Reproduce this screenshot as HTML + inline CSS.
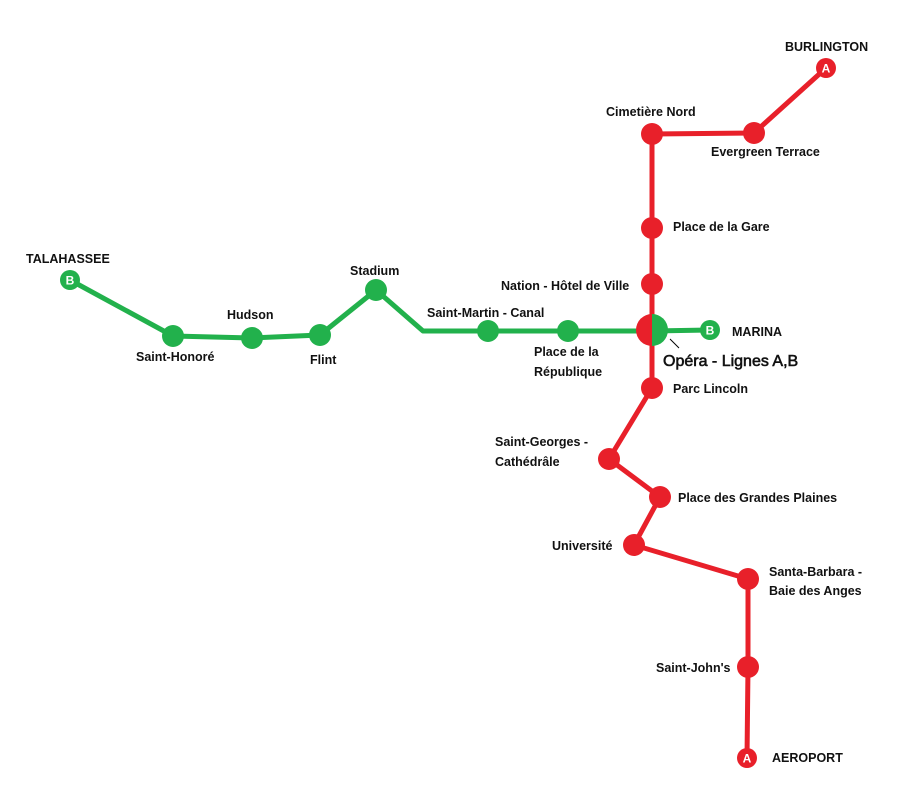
<!DOCTYPE html>
<html><head><meta charset="utf-8"><style>
html,body{margin:0;padding:0;background:#fff;}
svg text{font-family:"Liberation Sans",Arial,sans-serif;font-weight:bold;font-size:12.5px;fill:#111;}
svg text.w{fill:#fff;font-size:12px;}
</style></head><body>
<svg width="902" height="789" viewBox="0 0 902 789" xmlns="http://www.w3.org/2000/svg">
<rect width="902" height="789" fill="#fff"/>
<g fill="none" stroke-width="5" stroke-linejoin="round" stroke-linecap="round">
<polyline stroke="#e8202a" points="826,68 754,133 652,134 652,228 652,284 652,330 652,388 609,459 660,497 634,545 748,579 748,667 747,758"/>
<polyline stroke="#22b14c" points="70,280 173,336 252,338 320,335 376,290 423,331 488,331 568,331 652,331 710,330"/>
</g>
<g fill="#e8202a">
<circle cx="754" cy="133" r="11"/><circle cx="652" cy="134" r="11"/><circle cx="652" cy="228" r="11"/>
<circle cx="652" cy="284" r="11"/><circle cx="652" cy="388" r="11"/><circle cx="609" cy="459" r="11"/>
<circle cx="660" cy="497" r="11"/><circle cx="634" cy="545" r="11"/><circle cx="748" cy="579" r="11"/>
<circle cx="748" cy="667" r="11"/><circle cx="826" cy="68" r="10"/><circle cx="747" cy="758" r="10"/>
</g>
<g fill="#22b14c">
<circle cx="70" cy="280" r="10"/><circle cx="173" cy="336" r="11"/><circle cx="252" cy="338" r="11"/>
<circle cx="320" cy="335" r="11"/><circle cx="376" cy="290" r="11"/><circle cx="488" cy="331" r="11"/>
<circle cx="568" cy="331" r="11"/><circle cx="710" cy="330" r="10"/>
</g>
<path d="M652,314 A16,16 0 0 0 652,346 Z" fill="#e8202a"/>
<path d="M652,314 A16,16 0 0 1 652,346 Z" fill="#22b14c"/>
<line x1="670" y1="339" x2="679" y2="348" stroke="#000" stroke-width="1"/>
<text class="w" x="826" y="72.5" text-anchor="middle">A</text>
<text class="w" x="747" y="762.5" text-anchor="middle">A</text>
<text class="w" x="70" y="284.5" text-anchor="middle">B</text>
<text class="w" x="710" y="334.5" text-anchor="middle">B</text>
<text x="785" y="51">BURLINGTON</text>
<text x="606" y="116">Cimetière Nord</text>
<text x="711" y="156">Evergreen Terrace</text>
<text x="673" y="231">Place de la Gare</text>
<text x="501" y="290">Nation - Hôtel de Ville</text>
<text x="732" y="336">MARINA</text>
<text x="663" y="366" style="font-size:16px;font-weight:normal;stroke:#111;stroke-width:0.6">Opéra - Lignes A,B</text>
<text x="673" y="393">Parc Lincoln</text>
<text x="495" y="446">Saint-Georges -</text>
<text x="495" y="466">Cathédrâle</text>
<text x="678" y="502">Place des Grandes Plaines</text>
<text x="552" y="550">Université</text>
<text x="769" y="576">Santa-Barbara -</text>
<text x="769" y="595">Baie des Anges</text>
<text x="656" y="672">Saint-John's</text>
<text x="772" y="762">AEROPORT</text>
<text x="26" y="263">TALAHASSEE</text>
<text x="136" y="361">Saint-Honoré</text>
<text x="227" y="319">Hudson</text>
<text x="310" y="364">Flint</text>
<text x="350" y="275">Stadium</text>
<text x="427" y="317">Saint-Martin - Canal</text>
<text x="534" y="356">Place de la</text>
<text x="534" y="376">République</text>
</svg>
</body></html>
